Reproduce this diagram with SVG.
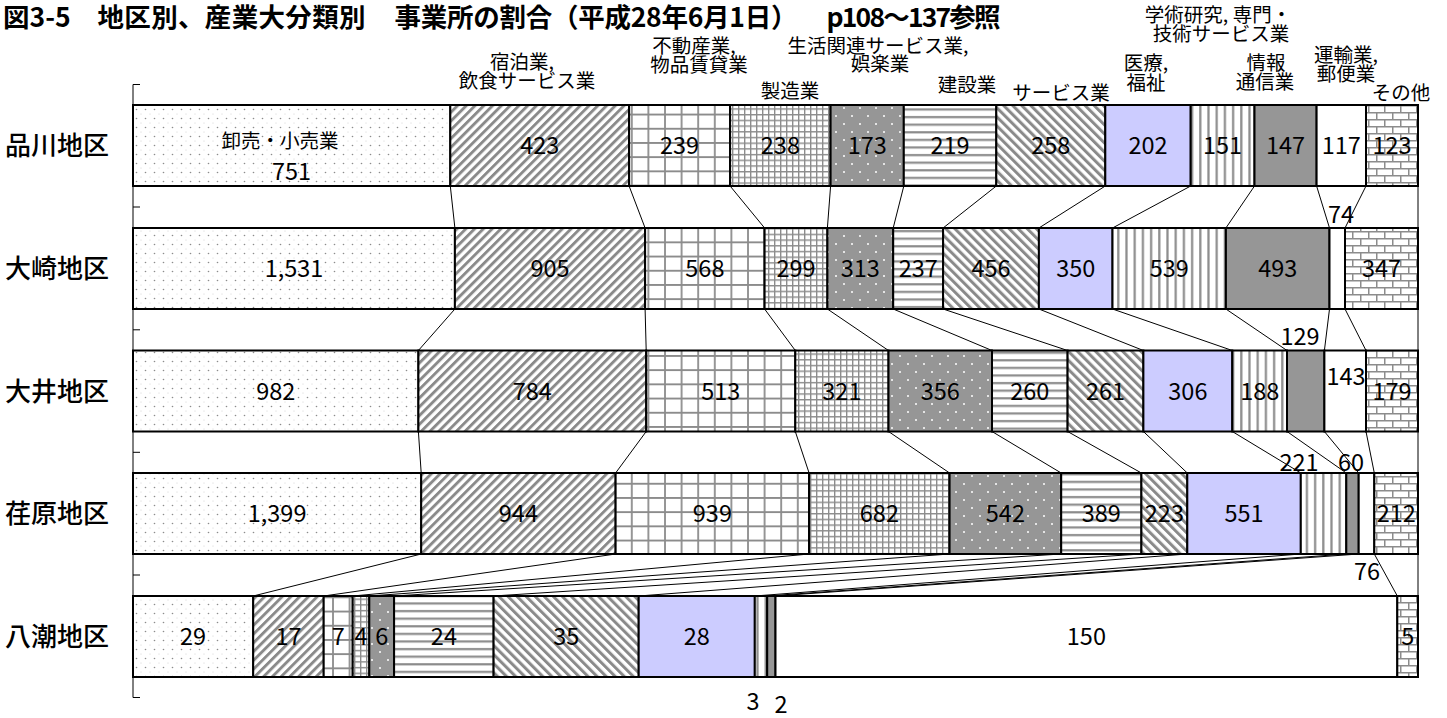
<svg xmlns="http://www.w3.org/2000/svg" width="1447" height="718" viewBox="0 0 1447 718">
<style>
text{font-family:"Noto Sans CJK JP","Liberation Sans",sans-serif;fill:#000}
.title{font-size:26.5px;font-weight:bold}
.row{font-size:26px;font-weight:500}
.v{font-size:23.5px;text-anchor:middle}
.cat{font-size:19.5px;text-anchor:middle}
.seg rect{stroke:#000;stroke-width:2}
.sl line{stroke:#000;stroke-width:1}
.axis{stroke:#000;stroke-width:1;fill:none}
.c1{fill:url(#pDots)}.c2{fill:url(#pUp)}.c3{fill:url(#pLg)}.c4{fill:url(#pSg)}.c5{fill:url(#pDk)}.c6{fill:url(#pH)}
.c7{fill:url(#pDn)}.c8{fill:#CCCCFF}.c9{fill:url(#pV)}.c10{fill:#969696}.c11{fill:#fff}.c12{fill:url(#pBr)}
</style>
<defs>
<pattern id="pDots" width="9" height="9" patternUnits="userSpaceOnUse"><rect width="9" height="9" fill="#fff"/><circle cx="1.5" cy="1.5" r="0.8" fill="#8c8c8c"/><circle cx="6" cy="6" r="0.6" fill="#d2d2d2"/></pattern>
<pattern id="pUp" width="6.2" height="6.2" patternUnits="userSpaceOnUse" patternTransform="rotate(45)"><rect width="6.2" height="6.2" fill="#fff"/><rect width="2.9" height="6.2" fill="#8a8a8a"/></pattern>
<pattern id="pDn" width="6.4" height="6.4" patternUnits="userSpaceOnUse" patternTransform="rotate(-45)"><rect width="6.4" height="6.4" fill="#fff"/><rect width="3" height="6.4" fill="#8a8a8a"/></pattern>
<pattern id="pLg" width="16.6" height="14.2" patternUnits="userSpaceOnUse"><rect width="16.6" height="14.2" fill="#fff"/><path d="M0 1H16.6M1 0V14.2" stroke="#8c8c8c" stroke-width="1.8"/></pattern>
<pattern id="pSg" width="6" height="5.7" patternUnits="userSpaceOnUse"><rect width="6" height="5.7" fill="#fff"/><path d="M0 0.7H6M0.7 0V5.7" stroke="#8c8c8c" stroke-width="1.4"/></pattern>
<pattern id="pDk" width="16" height="16" patternUnits="userSpaceOnUse"><rect width="16" height="16" fill="#969696"/><circle cx="4" cy="4" r="1" fill="#fff"/><circle cx="12" cy="12" r="1" fill="#fff"/></pattern>
<pattern id="pH" width="10" height="7.6" patternUnits="userSpaceOnUse"><rect width="10" height="7.6" fill="#fff"/><rect y="2" width="10" height="2.2" fill="#8c8c8c"/></pattern>
<pattern id="pV" width="8.2" height="10" patternUnits="userSpaceOnUse"><rect width="8.2" height="10" fill="#fff"/><rect x="2" width="2.2" height="10" fill="#8c8c8c"/></pattern>
<pattern id="pBr" width="16" height="14" patternUnits="userSpaceOnUse"><rect width="16" height="14" fill="#fff"/><path d="M0 0.75H16M0 7.75H16M0.75 0V7M8.75 7V14" stroke="#8c8c8c" stroke-width="1.5"/></pattern>
</defs>
<rect width="1447" height="718" fill="#fff"/>

<g id="title">
<text class="title" x="3" y="27">図3-5</text>
<text class="title" x="97.5" y="27" textLength="268" lengthAdjust="spacing">地区別、産業大分類別</text>
<text class="title" x="394.5" y="27" textLength="403" lengthAdjust="spacing">事業所の割合（平成28年6月1日）</text>
<text class="title" x="826.5" y="27" textLength="174" lengthAdjust="spacing">p108～137参照</text>
</g>

<g id="axis">
<path class="axis" d="M133 84.5V697.5M133 84.5H140M133 207H140M133 329.8H140M133 452.3H140M133 575H140M133 697.5H140"/>
</g>

<g id="category-labels">
<text class="cat" x="522" y="69">宿泊業,</text>
<text class="cat" x="527" y="88">飲食サービス業</text>
<text class="cat" x="694" y="53">不動産業,</text>
<text class="cat" x="699" y="72">物品賃貸業</text>
<text class="cat" x="790" y="98">製造業</text>
<text class="cat" x="878" y="53">生活関連サービス業,</text>
<text class="cat" x="880" y="71">娯楽業</text>
<text class="cat" x="967" y="92">建設業</text>
<text class="cat" x="1061" y="100">サービス業</text>
<text class="cat" x="1146" y="70">医療,</text>
<text class="cat" x="1146" y="90">福祉</text>
<text class="cat" x="1218" y="22">学術研究, 専門・</text>
<text class="cat" x="1221" y="41">技術サービス業</text>
<text class="cat" x="1266" y="70">情報</text>
<text class="cat" x="1265" y="89">通信業</text>
<text class="cat" x="1346" y="62">運輸業,</text>
<text class="cat" x="1346" y="81">郵便業</text>
<text class="cat" x="1401" y="100">その他</text>
</g>

<g id="row-labels">
<text class="row" x="5" y="155">品川地区</text>
<text class="row" x="5" y="278">大崎地区</text>
<text class="row" x="5" y="400.5">大井地区</text>
<text class="row" x="5" y="523">荏原地区</text>
<text class="row" x="5" y="646">八潮地区</text>
</g>

<g id="series-lines" class="sl">
<line x1="450.3" y1="186" x2="454.9" y2="228"/>
<line x1="629.1" y1="186" x2="645.1" y2="228"/>
<line x1="730.1" y1="186" x2="764.6" y2="228"/>
<line x1="830.6" y1="186" x2="827.4" y2="228"/>
<line x1="903.8" y1="186" x2="893.2" y2="228"/>
<line x1="996.3" y1="186" x2="943.1" y2="228"/>
<line x1="1105.3" y1="186" x2="1038.9" y2="228"/>
<line x1="1190.7" y1="186" x2="1112.5" y2="228"/>
<line x1="1254.5" y1="186" x2="1225.9" y2="228"/>
<line x1="1316.6" y1="186" x2="1329.5" y2="228"/>
<line x1="1366" y1="186" x2="1345" y2="228"/>
<line x1="1418" y1="186" x2="1418" y2="228"/>

<line x1="454.9" y1="309" x2="418.4" y2="350.5"/>
<line x1="645.1" y1="309" x2="646.2" y2="350.5"/>
<line x1="764.6" y1="309" x2="795.3" y2="350.5"/>
<line x1="827.4" y1="309" x2="888.5" y2="350.5"/>
<line x1="893.2" y1="309" x2="992" y2="350.5"/>
<line x1="943.1" y1="309" x2="1067.6" y2="350.5"/>
<line x1="1038.9" y1="309" x2="1143.4" y2="350.5"/>
<line x1="1112.5" y1="309" x2="1232.3" y2="350.5"/>
<line x1="1225.9" y1="309" x2="1287" y2="350.5"/>
<line x1="1329.5" y1="309" x2="1324.4" y2="350.5"/>
<line x1="1345" y1="309" x2="1366" y2="350.5"/>
<line x1="1418" y1="309" x2="1418" y2="350.5"/>

<line x1="418.4" y1="431.5" x2="421.2" y2="473"/>
<line x1="646.2" y1="431.5" x2="615.6" y2="473"/>
<line x1="795.3" y1="431.5" x2="809.1" y2="473"/>
<line x1="888.5" y1="431.5" x2="949.6" y2="473"/>
<line x1="992" y1="431.5" x2="1061.2" y2="473"/>
<line x1="1067.6" y1="431.5" x2="1141.4" y2="473"/>
<line x1="1143.4" y1="431.5" x2="1187.3" y2="473"/>
<line x1="1232.3" y1="431.5" x2="1300.8" y2="473"/>
<line x1="1287" y1="431.5" x2="1346.3" y2="473"/>
<line x1="1324.4" y1="431.5" x2="1358.7" y2="473"/>
<line x1="1366" y1="431.5" x2="1374.3" y2="473"/>
<line x1="1418" y1="431.5" x2="1418" y2="473"/>

<line x1="421.2" y1="554" x2="253.2" y2="596"/>
<line x1="615.6" y1="554" x2="323.7" y2="596"/>
<line x1="809.1" y1="554" x2="352.7" y2="596"/>
<line x1="949.6" y1="554" x2="369.3" y2="596"/>
<line x1="1061.2" y1="554" x2="394.1" y2="596"/>
<line x1="1141.4" y1="554" x2="493.6" y2="596"/>
<line x1="1187.3" y1="554" x2="638.7" y2="596"/>
<line x1="1300.8" y1="554" x2="754.8" y2="596"/>
<line x1="1346.3" y1="554" x2="767.2" y2="596"/>
<line x1="1358.7" y1="554" x2="775.5" y2="596"/>
<line x1="1374.3" y1="554" x2="1397.3" y2="596"/>
<line x1="1418" y1="554" x2="1418" y2="596"/>
</g>

<g id="row-shinagawa" class="seg">
<g id="r1-c1"><rect class="c1" x="133" y="105" width="317.3" height="81"/><text class="cat" x="280" y="148">卸売・小売業</text><text class="v" x="291.6" y="180">751</text></g>
<g id="r1-c2"><rect class="c2" x="450.3" y="105" width="178.8" height="81"/><text class="v" x="539.7" y="154">423</text></g>
<g id="r1-c3"><rect class="c3" x="629.1" y="105" width="101" height="81"/><text class="v" x="679.6" y="154">239</text></g>
<g id="r1-c4"><rect class="c4" x="730.1" y="105" width="100.5" height="81"/><text class="v" x="780.4" y="154">238</text></g>
<g id="r1-c5"><rect class="c5" x="830.6" y="105" width="73.2" height="81"/><text class="v" x="867.2" y="154">173</text></g>
<g id="r1-c6"><rect class="c6" x="903.8" y="105" width="92.5" height="81"/><text class="v" x="950.1" y="154">219</text></g>
<g id="r1-c7"><rect class="c7" x="996.3" y="105" width="109" height="81"/><text class="v" x="1050.8" y="154">258</text></g>
<g id="r1-c8"><rect class="c8" x="1105.3" y="105" width="85.4" height="81"/><text class="v" x="1148" y="154">202</text></g>
<g id="r1-c9"><rect class="c9" x="1190.7" y="105" width="63.8" height="81"/><text class="v" x="1222.6" y="154">151</text></g>
<g id="r1-c10"><rect class="c10" x="1254.5" y="105" width="62.1" height="81"/><text class="v" x="1285.6" y="154">147</text></g>
<g id="r1-c11"><rect class="c11" x="1316.6" y="105" width="49.4" height="81"/><text class="v" x="1341.3" y="154">117</text></g>
<g id="r1-c12"><rect class="c12" x="1366" y="105" width="52" height="81"/><text class="v" x="1392" y="154">123</text></g>
</g>

<g id="row-osaki" class="seg">
<g id="r2-c1"><rect class="c1" x="133" y="228" width="321.9" height="81"/><text class="v" x="294" y="277">1,531</text></g>
<g id="r2-c2"><rect class="c2" x="454.9" y="228" width="190.2" height="81"/><text class="v" x="550" y="277">905</text></g>
<g id="r2-c3"><rect class="c3" x="645.1" y="228" width="119.5" height="81"/><text class="v" x="704.9" y="277">568</text></g>
<g id="r2-c4"><rect class="c4" x="764.6" y="228" width="62.8" height="81"/><text class="v" x="796" y="277">299</text></g>
<g id="r2-c5"><rect class="c5" x="827.4" y="228" width="65.8" height="81"/><text class="v" x="860.3" y="277">313</text></g>
<g id="r2-c6"><rect class="c6" x="893.2" y="228" width="49.9" height="81"/><text class="v" x="918.2" y="277">237</text></g>
<g id="r2-c7"><rect class="c7" x="943.1" y="228" width="95.8" height="81"/><text class="v" x="991" y="277">456</text></g>
<g id="r2-c8"><rect class="c8" x="1038.9" y="228" width="73.6" height="81"/><text class="v" x="1075.7" y="277">350</text></g>
<g id="r2-c9"><rect class="c9" x="1112.5" y="228" width="113.4" height="81"/><text class="v" x="1169.2" y="277">539</text></g>
<g id="r2-c10"><rect class="c10" x="1225.9" y="228" width="103.6" height="81"/><text class="v" x="1277.7" y="277">493</text></g>
<g id="r2-c11"><rect class="c11" x="1329.5" y="228" width="15.5" height="81"/><text class="v" x="1341" y="223">74</text></g>
<g id="r2-c12"><rect class="c12" x="1345" y="228" width="73" height="81"/><text class="v" x="1381.5" y="277">347</text></g>
</g>

<g id="row-oi" class="seg">
<g id="r3-c1"><rect class="c1" x="133" y="350.5" width="285.4" height="81"/><text class="v" x="275.7" y="399.5">982</text></g>
<g id="r3-c2"><rect class="c2" x="418.4" y="350.5" width="227.8" height="81"/><text class="v" x="532.3" y="399.5">784</text></g>
<g id="r3-c3"><rect class="c3" x="646.2" y="350.5" width="149.1" height="81"/><text class="v" x="720.8" y="399.5">513</text></g>
<g id="r3-c4"><rect class="c4" x="795.3" y="350.5" width="93.2" height="81"/><text class="v" x="841.9" y="399.5">321</text></g>
<g id="r3-c5"><rect class="c5" x="888.5" y="350.5" width="103.5" height="81"/><text class="v" x="940.3" y="399.5">356</text></g>
<g id="r3-c6"><rect class="c6" x="992" y="350.5" width="75.6" height="81"/><text class="v" x="1029.8" y="399.5">260</text></g>
<g id="r3-c7"><rect class="c7" x="1067.6" y="350.5" width="75.8" height="81"/><text class="v" x="1105.5" y="399.5">261</text></g>
<g id="r3-c8"><rect class="c8" x="1143.4" y="350.5" width="88.9" height="81"/><text class="v" x="1187.9" y="399.5">306</text></g>
<g id="r3-c9"><rect class="c9" x="1232.3" y="350.5" width="54.7" height="81"/><text class="v" x="1259.7" y="399.5">188</text></g>
<g id="r3-c10"><rect class="c10" x="1287" y="350.5" width="37.4" height="81"/><text class="v" x="1300" y="345">129</text></g>
<g id="r3-c11"><rect class="c11" x="1324.4" y="350.5" width="41.6" height="81"/><text class="v" x="1346" y="385">143</text></g>
<g id="r3-c12"><rect class="c12" x="1366" y="350.5" width="52" height="81"/><text class="v" x="1392" y="399.5">179</text></g>
</g>

<g id="row-ebara" class="seg">
<g id="r4-c1"><rect class="c1" x="133" y="473" width="288.2" height="81"/><text class="v" x="277.1" y="522">1,399</text></g>
<g id="r4-c2"><rect class="c2" x="421.2" y="473" width="194.4" height="81"/><text class="v" x="518.4" y="522">944</text></g>
<g id="r4-c3"><rect class="c3" x="615.6" y="473" width="193.5" height="81"/><text class="v" x="712.4" y="522">939</text></g>
<g id="r4-c4"><rect class="c4" x="809.1" y="473" width="140.5" height="81"/><text class="v" x="879.4" y="522">682</text></g>
<g id="r4-c5"><rect class="c5" x="949.6" y="473" width="111.6" height="81"/><text class="v" x="1005.4" y="522">542</text></g>
<g id="r4-c6"><rect class="c6" x="1061.2" y="473" width="80.2" height="81"/><text class="v" x="1101.3" y="522">389</text></g>
<g id="r4-c7"><rect class="c7" x="1141.4" y="473" width="45.9" height="81"/><text class="v" x="1164.4" y="522">223</text></g>
<g id="r4-c8"><rect class="c8" x="1187.3" y="473" width="113.5" height="81"/><text class="v" x="1244.1" y="522">551</text></g>
<g id="r4-c9"><rect class="c9" x="1300.8" y="473" width="45.5" height="81"/><text class="v" x="1299" y="471">221</text></g>
<g id="r4-c10"><rect class="c10" x="1346.3" y="473" width="12.4" height="81"/><text class="v" x="1351" y="471">60</text></g>
<g id="r4-c11"><rect class="c11" x="1358.7" y="473" width="15.6" height="81"/><text class="v" x="1367" y="580">76</text></g>
<g id="r4-c12"><rect class="c12" x="1374.3" y="473" width="43.7" height="81"/><text class="v" x="1396.2" y="522">212</text></g>
</g>

<g id="row-yashio" class="seg">
<g id="r5-c1"><rect class="c1" x="133" y="596" width="120.2" height="81"/><text class="v" x="193.1" y="645">29</text></g>
<g id="r5-c2"><rect class="c2" x="253.2" y="596" width="70.5" height="81"/><text class="v" x="288.5" y="645">17</text></g>
<g id="r5-c3"><rect class="c3" x="323.7" y="596" width="29" height="81"/><text class="v" x="338.2" y="645">7</text></g>
<g id="r5-c4"><rect class="c4" x="352.7" y="596" width="16.6" height="81"/><text class="v" x="361" y="645">4</text></g>
<g id="r5-c5"><rect class="c5" x="369.3" y="596" width="24.8" height="81"/><text class="v" x="381.7" y="645">6</text></g>
<g id="r5-c6"><rect class="c6" x="394.1" y="596" width="99.5" height="81"/><text class="v" x="443.9" y="645">24</text></g>
<g id="r5-c7"><rect class="c7" x="493.6" y="596" width="145.1" height="81"/><text class="v" x="566.2" y="645">35</text></g>
<g id="r5-c8"><rect class="c8" x="638.7" y="596" width="116.1" height="81"/><text class="v" x="696.8" y="645">28</text></g>
<g id="r5-c9"><rect class="c9" x="754.8" y="596" width="12.4" height="81"/><text class="v" x="753" y="710">3</text></g>
<g id="r5-c10"><rect class="c10" x="767.2" y="596" width="8.3" height="81"/><text class="v" x="781" y="713">2</text></g>
<g id="r5-c11"><rect class="c11" x="775.5" y="596" width="621.8" height="81"/><text class="v" x="1086.4" y="645">150</text></g>
<g id="r5-c12"><rect class="c12" x="1397.3" y="596" width="20.7" height="81"/><text class="v" x="1407.7" y="645">5</text></g>
</g>
</svg>
